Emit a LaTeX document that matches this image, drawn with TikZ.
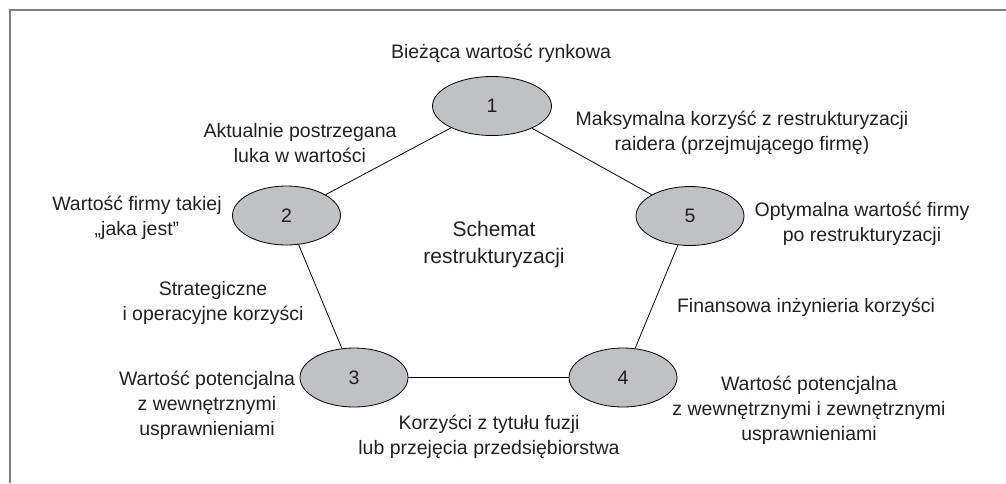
\documentclass[tikz,border=0pt]{standalone}
\usepackage{fontspec}
\setmainfont{Liberation Sans}
\usetikzlibrary{shapes.geometric}
\definecolor{stagefill}{RGB}{192,193,195}
\definecolor{framegray}{RGB}{128,128,128}
\definecolor{inkdark}{RGB}{35,31,32}
\begin{document}
\begin{tikzpicture}[x=1pt,y=-1pt,
  stage/.style={ellipse,draw=black,line width=0.8pt,fill=stagefill,inner sep=0pt,
    minimum width=108pt,minimum height=59pt,text=inkdark,
    font=\fontsize{19.5}{25}\selectfont},
  % labels are placed by the baseline of their last line
  lbl/.style={align=center,inner sep=0pt,anchor=base,text=inkdark,
    font=\fontsize{19.5}{25}\selectfont},
  link/.style={draw=black,line width=0.8pt}]
\useasboundingbox (0,0) rectangle (1006,483);
% frame
\draw[framegray,line width=2pt] (9.5,483) -- (9.5,10) -- (1006,10);
% stages
\node[stage,minimum width=119pt] (s1) at (492,106) {1};
\node[stage] (s2) at (286.5,215.5) {2};
\node[stage] (s3) at (354,377.5) {3};
\node[stage] (s4) at (623,377.5) {4};
\node[stage] (s5) at (690,216) {5};
% connectors
\draw[link] (s1) -- (s2);
\draw[link] (s2) -- (s3);
\draw[link] (s3) -- (s4);
\draw[link] (s4) -- (s5);
\draw[link] (s5) -- (s1);
% labels
\node[lbl] (t1) at (501,58) {Bieżąca wartość rynkowa};
\node[lbl] (t12) at (300,162) {Aktualnie postrzegana\\luka w wartości};
\node[lbl] (t2) at (137,235) {Wartość firmy takiej\\„jaka jest”};
\node[lbl] (t23) at (213,320) {Strategiczne\\i operacyjne korzyści};
\node[lbl,font=\fontsize{21}{27}\selectfont] (tc) at (494,263) {Schemat\\restrukturyzacji};
\node[lbl] (t15) at (742,150) {Maksymalna korzyść z restrukturyzacji\\raidera (przejmującego firmę)};
\node[lbl] (t5) at (862,241) {Optymalna wartość firmy\\po restrukturyzacji};
\node[lbl] (t45) at (806,312) {Finansowa inżynieria korzyści};
\node[lbl] (t4) at (809,440) {Wartość potencjalna\\z wewnętrznymi i zewnętrznymi\\usprawnieniami};
\node[lbl] (t34) at (489,454) {Korzyści z tytułu fuzji\\lub przejęcia przedsiębiorstwa};
\node[lbl] (t3) at (207,435) {Wartość potencjalna\\z wewnętrznymi\\usprawnieniami};
\end{tikzpicture}
\end{document}
